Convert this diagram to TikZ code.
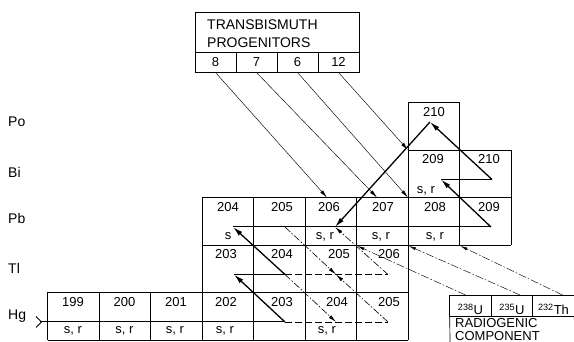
\documentclass[tikz,border=0pt]{standalone}
\usepackage{fontspec}
\setmainfont{Liberation Sans}
\usetikzlibrary{arrows.meta, positioning}

\begin{document}
\begin{tikzpicture}[
  x=1pt, y=-1pt,
  grid/.style={line width=0.7pt},
  tbcell/.style={draw, line width=0.7pt, minimum width=41pt, minimum height=20.5pt, inner sep=0pt, outer sep=0pt, font=\fontsize{13}{15}\selectfont},
  rcell/.style={draw, line width=0.7pt, minimum width=41.5pt, minimum height=21pt, inner sep=0pt, outer sep=0pt, text height=18pt, text depth=0pt, font=\fontsize{13}{15}\selectfont},
  num/.style={inner sep=0pt, font=\fontsize{13}{15}\selectfont},
  elem/.style={anchor=west, inner sep=0pt, font=\fontsize{14}{16}\selectfont},
  flow/.style={line width=1pt},
  beta/.style={line width=1.3pt, -{Latex[length=10pt, width=5pt]}},
  side/.style={line width=0.6pt, dash pattern=on 7pt off 3pt},
  branch/.style={line width=0.6pt, dash pattern=on 7pt off 2pt on 1.5pt off 2pt, -{Latex[length=8pt, width=3.5pt]}},
  feed/.style={line width=0.45pt, -{Latex[length=8pt, width=3.5pt]}},
  radio/.style={line width=0.45pt, dash pattern=on 8pt off 2pt on 1.5pt off 2pt, -{Latex[length=7pt, width=3pt]}}
]
\useasboundingbox (0,0) rectangle (574,342);
\clip (0,0) rectangle (574,342);

% Element labels
\node[elem] (po) at (8,122) {Po};
\node[elem] (bi) at (8,172) {Bi};
\node[elem] (pb) at (8,218) {Pb};
\node[elem] (tl) at (8,268) {Tl};
\node[elem] (hg) at (8,316) {Hg};

% Grid of the chart
\draw[grid] (47.5,340) -- (408,340) (47.5,292.5) -- (408,292.5)
  (202,245) -- (511,245) (202,197.5) -- (511,197.5)
  (408,150) -- (511,150) (408,102.5) -- (459.5,102.5);
\draw[grid] (47.5,292.5) -- (47.5,340) (99,292.5) -- (99,340) (150.5,292.5) -- (150.5,340)
  (202,197.5) -- (202,340) (253.5,197.5) -- (253.5,340) (305,197.5) -- (305,340)
  (356.5,197.5) -- (356.5,340) (408,102.5) -- (408,340) (459.5,102.5) -- (459.5,245)
  (511,150) -- (511,245);

% Row Hg
\node[num] (hg199) at (73,302) {199};
\node[num] (hg200) at (124.5,302) {200};
\node[num] (hg201) at (176,302) {201};
\node[num] (hg202) at (226,302) {202};
\node[num] (hg203) at (282,302) {203};
\node[num] (hg204) at (337,302) {204};
\node[num] (hg205) at (389,302) {205};
\node[num] (sr199) at (73,331) {s, r};
\node[num] (sr200) at (124.5,331) {s, r};
\node[num] (sr201) at (175,331) {s, r};
\node[num] (sr202) at (225,331) {s, r};
\node[num] (sr204) at (327,331) {s, r};

% Row Tl
\node[num] (tl203) at (226,254.5) {203};
\node[num] (tl204) at (282,254.5) {204};
\node[num] (tl205) at (339,254.5) {205};
\node[num] (tl206) at (389,254.5) {206};

% Row Pb
\node[num] (pb204) at (228,207) {204};
\node[num] (pb205) at (282,207) {205};
\node[num] (pb206) at (329,207) {206};
\node[num] (pb207) at (383,207) {207};
\node[num] (pb208) at (435,207) {208};
\node[num] (pb209) at (489,207) {209};
\node[num] (s204) at (228,236.5) {s};
\node[num] (sr206) at (325,236.5) {s, r};
\node[num] (sr207) at (381,236.5) {s, r};
\node[num] (sr208) at (435,236.5) {s, r};

% Rows Bi and Po
\node[num] (bi209) at (433,159.5) {209};
\node[num] (bi210) at (489,159.5) {210};
\node[num] (srbi) at (426,190.5) {s, r};
\node[num] (po210) at (434,112) {210};

% Points of the s-process path
\coordinate (hgin) at (40,322);
\coordinate (pHg203) at (285,322);
\coordinate (pHg204) at (336,322);
\coordinate (pHg205) at (388,322);
\coordinate (pTl203) at (234,274.5);
\coordinate (pTl204) at (285,274.5);
\coordinate (pTl205) at (336,274.5);
\coordinate (pTl206) at (388,274.5);
\coordinate (pPb204) at (233,227);
\coordinate (pPb205) at (285,227);
\coordinate (pPb206) at (335,227);
\coordinate (pPb209) at (491,227);
\coordinate (pBi209) at (441,179.5);
\coordinate (pBi210) at (492,179.5);
\coordinate (pPo210) at (430,122);

% Main path
\draw[line width=0.8pt] (36,316.5) -- (41.5,322) -- (36,327.5);
\draw[flow] (hgin) -- (pHg203);
\draw[beta] (pHg203) -- (pTl203);
\draw[flow] (pTl203) -- (pTl204);
\draw[beta] (pTl204) -- (pPb204);
\draw[flow] (pPb204) -- (pPb209);
\draw[beta] (pPb209) -- (pBi209);
\draw[flow] (pBi209) -- (pBi210);
\draw[beta] (pBi210) -- (pPo210);
\draw[beta] (pPo210) -- (pPb206);

% Branchings
\draw[side] (pHg203) -- (pHg205);
\draw[side] (pTl204) -- (pTl206);
\draw[branch] (pTl204) -- (pHg204);
\draw[branch] (pPb205) -- (pTl205);
\draw[branch] (pHg205) -- (pTl205);
\draw[branch] (pTl206) -- (pPb206);

% Transbismuth progenitors
\node[draw, line width=0.7pt, minimum width=164pt, minimum height=39.5pt, inner sep=0pt, outer sep=0pt] (tbhead) at (277,32.25) {};
\node[anchor=north west, align=left, inner sep=0pt, font=\fontsize{14}{18}\selectfont] (tbtext) at (207,20) {TRANSBISMUTH\\PROGENITORS};
\node[tbcell] (tb8) at (215.5,62.25) {8};
\node[tbcell, right=0pt of tb8] (tb7) {7};
\node[tbcell, right=0pt of tb7] (tb6) {6};
\node[tbcell, right=0pt of tb6] (tb12) {12};
\coordinate (in206) at (327,197.5);
\coordinate (in207) at (377,197.5);
\coordinate (in208) at (408,197.5);
\coordinate (in209) at (408,150);
\draw[feed] (tb8.south) -- (in206);
\draw[feed] (tb7.south) -- (in207);
\draw[feed] (tb6.south) -- (in208);
\draw[feed] (tb12.south) -- (in209);

% Radiogenic component
\node[rcell] (u238) at (470.5,305.5) {\textsuperscript{238}U};
\node[rcell, right=0pt of u238] (u235) {\textsuperscript{235}U};
\node[rcell, right=0pt of u235] (th232) {\textsuperscript{232}Th};
\draw[grid] (u238.south west) -- (450,345) (th232.south east) -- (575,345);
\node[anchor=north west, align=left, inner sep=0pt, font=\fontsize{13}{13}\selectfont] (radtext) at (455,318) {RADIOGENIC\\COMPONENT};
\coordinate (out206) at (357.5,246);
\coordinate (out207) at (409,246);
\coordinate (out208) at (460.5,246);
\draw[radio] ([xshift=-5pt]u238.north) -- (out206);
\draw[radio] ([xshift=8pt]u235.north) -- (out207);
\draw[radio] ([xshift=9pt]th232.north) -- (out208);

\end{tikzpicture}
\end{document}
